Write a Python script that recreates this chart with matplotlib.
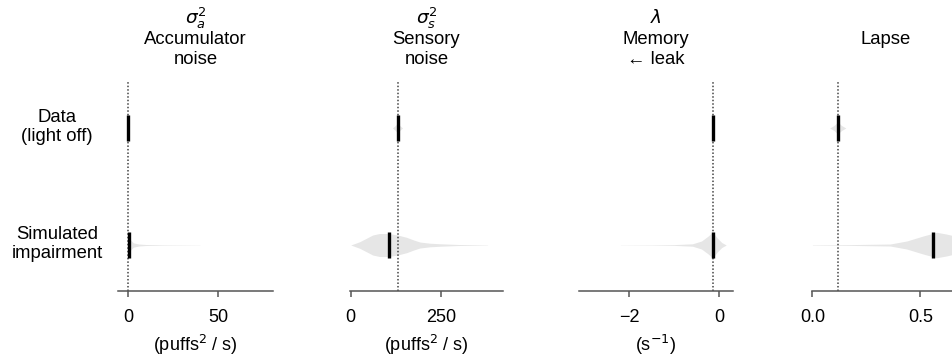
import numpy as np
import matplotlib
matplotlib.use('Agg')
import matplotlib.pyplot as plt

plt.rcParams['font.family'] = ['Liberation Sans', 'DejaVu Sans']
plt.rcParams['mathtext.fontset'] = 'dejavusans'

# ── data ─────────────────────────────────────────────────────────────────────
row_labels = ['Data\n(light off)', 'Simulated\nimpairment']
titles = [
    ['$\\sigma_a^2$', 'Accumulator', 'noise'],
    ['$\\sigma_s^2$', 'Sensory', 'noise'],
    ['$\\lambda$', 'Memory', '\u2190 leak'],
    ['', 'Lapse', ''],
]
xlabels = ['(puffs$^2$ / s)', '(puffs$^2$ / s)', '(s$^{-1}$)', '']
xticks = [[0, 50], [0, 250], [-2, 0], [0.0, 0.5]]
xticklabels = [['0', '50'], ['0', '250'], ['\u22122', '0'], ['0.0', '0.5']]

# fitted values (black bars) and reference (dotted line = data fit)
data_vals = [0.0, 130, -0.15, 0.117]
sim_vals = [0.6, 105, -0.15, 0.56]

# violin profiles: x positions and relative density
data_vx = [None, [116, 124, 130, 136, 144], None, [0.08, 0.10, 0.117, 0.135, 0.155]]
data_vd = [None, [0, 2.5, 5, 2.5, 0], None, [0, 2.5, 6, 2.5, 0]]

sim_vx = [
    [0, 0.5, 1.5, 3, 6, 10, 20, 40],
    [0, 25, 45, 61, 80, 105, 130, 155, 175, 192, 220, 250, 300, 380],
    [-2.2, -1.5, -1.0, -0.6, -0.4, -0.25, -0.15, -0.05, 0.05, 0.15],
    [0.0, 0.175, 0.36, 0.437, 0.513, 0.576, 0.62, 0.66, 0.70],
]
sim_vd = [
    [10, 10, 5, 2.2, 1.0, 0.5, 0.25, 0.1],
    [0, 3.3, 7, 10, 11.5, 11.5, 10, 7.7, 5, 3, 1.8, 1.2, 0.5, 0.15],
    [0.1, 0.2, 0.4, 1.2, 4, 9, 13, 7, 2.5, 0],
    [0.2, 0.4, 1.0, 4, 9, 12.7, 11, 9, 6],
]

xlims = [(-5.5, 80.5), (-2, 423), (-3.12, 0.30), (-0.002, 0.684)]

# ── layout (pixels) ──────────────────────────────────────────────────────────
W, H = 953, 358
ax_px = [(118, 273), (350, 503), (579, 733), (812, 960)]
ax_top, ax_bot = 82, 291
Y_DATA, Y_SIM = 1.0, 0.0
DENS_SCALE = 1 / 117
BAR_HALF = 0.107
GREY = '#e6e6e6'
SPINE = '#555555'

fig = plt.figure(figsize=(W / 100, H / 100), dpi=100)

for i in range(4):
    x0, x1 = ax_px[i]
    ax = fig.add_axes([x0 / W, (H - ax_bot) / H, (x1 - x0) / W, (ax_bot - ax_top) / H])
    ax.set_xlim(*xlims[i])
    ax.set_ylim(-0.393, 1.393)

    # violins
    if data_vx[i] is not None:
        d = np.array(data_vd[i]) * DENS_SCALE
        ax.fill_between(data_vx[i], Y_DATA - d, Y_DATA + d, color=GREY, lw=0, zorder=1)
    d = np.array(sim_vd[i]) * DENS_SCALE
    ax.fill_between(sim_vx[i], Y_SIM - d, Y_SIM + d, color=GREY, lw=0, zorder=1)

    # reference line
    ax.axvline(data_vals[i], color='#444444', ls=(0, (1, 1.3)), lw=1.1, zorder=2)

    # fitted values
    ax.vlines([data_vals[i], sim_vals[i]], [Y_DATA - BAR_HALF, Y_SIM - BAR_HALF],
              [Y_DATA + BAR_HALF, Y_SIM + BAR_HALF], color='black', lw=2.4, zorder=3)

    for s in ['top', 'right', 'left']:
        ax.spines[s].set_visible(False)
    ax.spines['bottom'].set_color(SPINE)
    ax.spines['bottom'].set_linewidth(1.1)
    ax.set_yticks([])
    ax.set_xticks(xticks[i])
    ax.set_xticklabels(xticklabels[i], fontsize=13)
    ax.tick_params(axis='x', colors=SPINE, labelcolor='black', length=4, width=1.1, pad=9)
    if xlabels[i]:
        ax.set_xlabel(xlabels[i], fontsize=13, labelpad=5)

    # titles, one line at a time
    for ln, ypx in zip(titles[i], [18, 39, 59]):
        if ln:
            fig.text(((x0 + x1) / 2) / W, (H - ypx) / H, ln, fontsize=13.3,
                     ha='center', va='center')

# row labels
for lab, ypx in zip(row_labels, [127, 244]):
    fig.text(57 / W, (H - ypx) / H, lab, fontsize=13.3, ha='center', va='center',
             multialignment='center', linespacing=1.15)

fig.savefig('out.png', dpi=100)
